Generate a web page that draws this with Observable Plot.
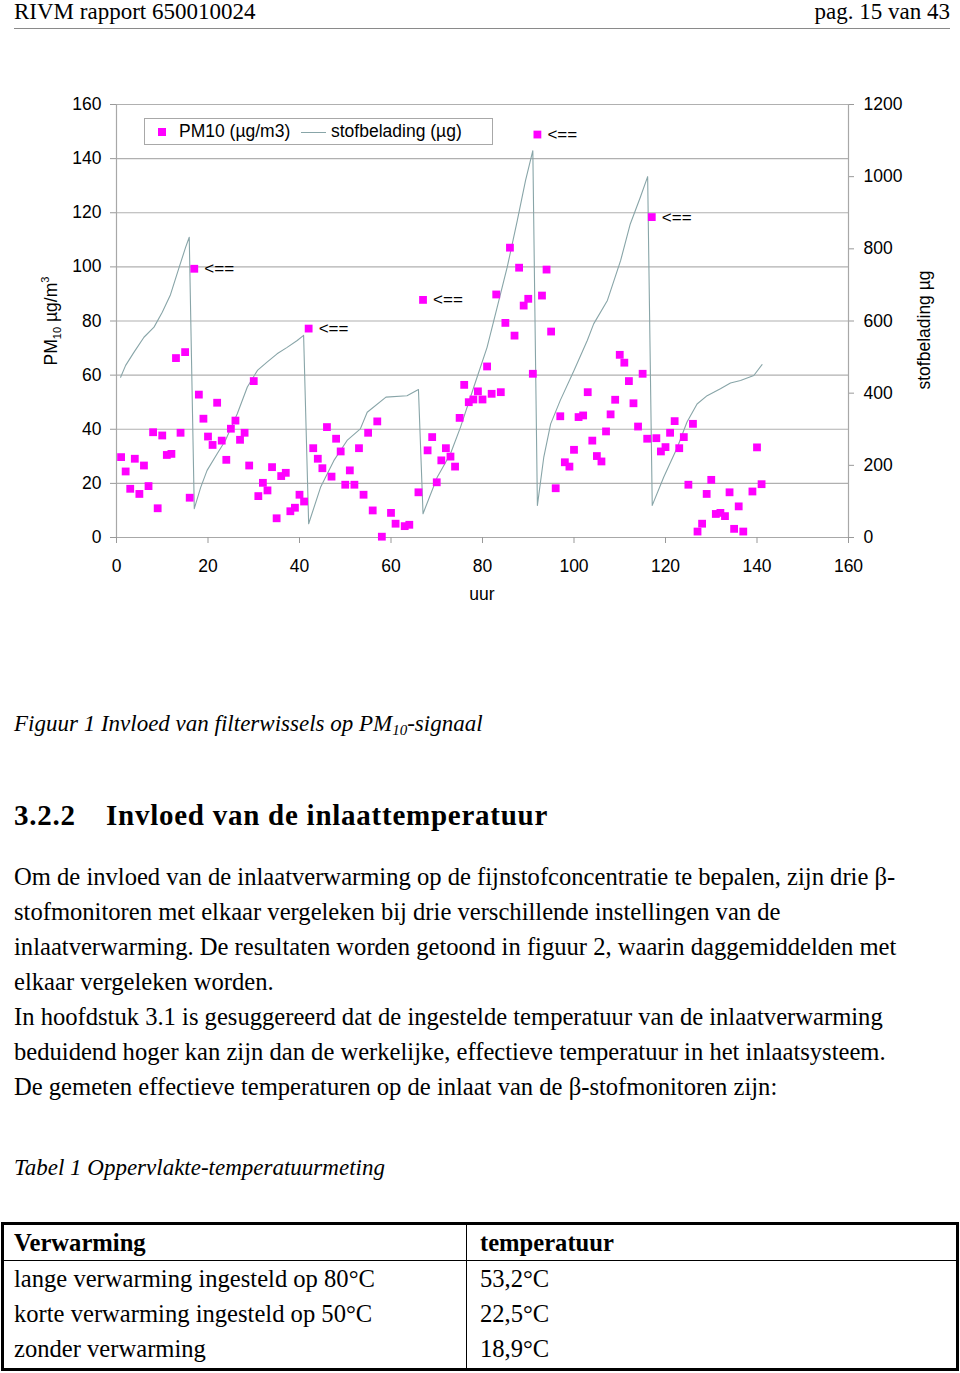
<!DOCTYPE html>
<html><head><meta charset="utf-8">
<script src="https://cdn.jsdelivr.net/npm/d3@7"></script>
<script src="https://cdn.jsdelivr.net/npm/@observablehq/plot@0.6"></script>
<style>
body{margin:0;background:#fff;}
#page{position:relative;width:960px;height:1373px;overflow:hidden;font-family:"Liberation Serif","Times New Roman",serif;color:#000;background:#fff;}
.abs{position:absolute;white-space:nowrap;}
.sans{font-family:"Liberation Sans",Arial,sans-serif;}
</style></head><body><div id="page"></div>
<script>
// ---- chart data ----
const pmHours = [1,2,3,4,5,6,7,8,9,10,11,12,13,14,15,16,17,18,19,20,21,22,23,24,25,26,27,28,29,30,
  31,32,33,34,35,36,37,38,39,40,41,42,43,44,45,46,47,48,49,50,51,52,53,54,55,56,57,58,60,61,63,64,66,
  67,68,69,70,71,72,73,74,75,76,77,78,79,80,81,82,83,84,85,86,87,88,89,90,91,92,93,94,95,96,97,98,99,100,
  101,102,103,104,105,106,107,108,109,110,111,112,113,114,115,116,117,118,119,120,121,122,123,124,125,126,
  127,128,129,130,131,132,133,134,135,136,137,139,140,141];
const pmValues = [29.7,24.4,18.0,29.1,16.1,26.6,19.0,38.9,10.8,37.7,30.5,30.9,66.3,38.7,68.5,14.7,99.3,52.8,43.9,37.3,
  34.2,49.8,35.8,28.7,40.2,43.2,36.1,38.7,26.6,57.8,15.3,20.2,17.4,26.0,7.1,22.7,23.9,9.7,11.0,15.8,13.3,77.2,
  33.0,29.1,25.6,40.8,22.5,36.5,31.8,19.5,24.8,19.5,33.0,15.8,38.7,10.0,42.9,0.3,9.1,5.1,4.2,4.7,16.7,
  87.8,32.2,37.1,20.4,28.5,33.0,29.9,26.2,44.2,56.4,50.0,51.0,54.0,51.0,63.2,53.1,89.8,53.7,79.3,107.1,74.6,
  99.7,85.7,88.2,60.5,148.9,89.4,99.0,76.1,18.2,44.8,27.8,26.2,32.4,44.5,45.1,53.7,35.8,30.1,28.1,39.2,45.5,
  50.9,67.5,64.6,57.8,49.6,41.0,60.5,36.5,118.4,36.7,31.8,33.4,38.7,43.0,33.0,37.1,19.5,42.0,2.2,5.1,16.1,
  21.3,8.7,9.1,7.9,16.7,3.2,11.5,2.2,17.0,33.3,19.7];
const flaggedHours = [17,42,67,92,117];
const loadHours = [0.9,2,3.8,6,8.2,10,11.8,13.6,15.1,15.9,
  17,18.4,19.8,22,23.8,26.4,28.6,30.8,32.9,35.1,37.3,39.5,40.9,
  42,44.6,47.5,50.4,53.3,54.8,58.9,63.5,66,
  67,70.1,73,75.2,78.1,81,83.2,85.4,87.6,89.4,91,
  92,93.4,94.9,97,100,102.9,104.3,107.3,110.2,112.3,114.5,116.1,
  117.1,119.6,122.6,124.7,126.9,129.1,132,134.2,136.4,139.3,141.1];
const loadValues = [444,477,513,555,583,624,673,745,804,832,
  80,139,186,232,269,343,417,463,486,509,527,546,560,
  38,139,213,269,301,347,389,393,410,
  66,167,232,306,417,527,638,749,878,989,1072,
  89,223,315,380,463,546,592,657,768,869,943,1000,
  89,167,250,320,370,393,412,428,435,449,479];
const xTicks = [0,20,40,60,80,100,120,140,160];
const leftTicks = [0,20,40,60,80,100,120,140,160];
const rightTicks = [0,200,400,600,800,1000,1200];
const loadToLeft = 160/1200;

// ---- page text ----
const headerLeft = "RIVM rapport 650010024";
const headerRight = "pag. 15 van 43";
const bodyLines = [
  "Om de invloed van de inlaatverwarming op de fijnstofconcentratie te bepalen, zijn drie β-",
  "stofmonitoren met elkaar vergeleken bij drie verschillende instellingen van de",
  "inlaatverwarming. De resultaten worden getoond in figuur 2, waarin daggemiddelden met",
  "elkaar vergeleken worden.",
  "In hoofdstuk 3.1 is gesuggereerd dat de ingestelde temperatuur van de inlaatverwarming",
  "beduidend hoger kan zijn dan de werkelijke, effectieve temperatuur in het inlaatsysteem.",
  "De gemeten effectieve temperaturen op de inlaat van de β-stofmonitoren zijn:"
];
const tableHeader = ["Verwarming","temperatuur"];
const tableRows = [
  ["lange verwarming ingesteld op 80°C","53,2°C"],
  ["korte verwarming ingesteld op 50°C","22,5°C"],
  ["zonder verwarming","18,9°C"]
];

const page = document.getElementById("page");
function add(html, style, cls){
  const d = document.createElement("div");
  d.className = "abs " + (cls||"");
  d.innerHTML = html;
  Object.assign(d.style, style);
  page.appendChild(d);
  return d;
}

// header
add(headerLeft, {left:"14px", top:"0px", fontSize:"23px", lineHeight:"24px"});
add(headerRight, {right:"10px", top:"0px", fontSize:"23px", lineHeight:"24px"});
add("", {left:"14px", top:"28px", width:"936px", height:"0", borderTop:"1.5px solid #8a8a8a"});

// chart
const pm = pmHours.map((h,i)=>({hour:h, pm:pmValues[i]}));
const load = loadHours.map((h,i)=>({hour:h, load:loadValues[i]}));
const flagged = pm.filter(d => flaggedHours.includes(d.hour));

const chart = Plot.plot({
  width: 960, height: 580,
  marginLeft: 116, marginRight: 112, marginTop: 64, marginBottom: 83,
  style: {fontFamily: "'Liberation Sans', Arial, sans-serif", fontSize: "17.5px", background: "transparent", color: "#000"},
  x: {domain: [0,160]},
  y: {domain: [0,160]},
  marks: [
    Plot.gridY(leftTicks.slice(1), {stroke: "#b0b0b0", strokeOpacity: 1, strokeWidth: 1.2}),
    Plot.ruleY([0], {stroke: "#a8a8a8", strokeWidth: 1.2}),
    Plot.ruleX([0], {stroke: "#a8a8a8", strokeWidth: 1.2}),
    Plot.ruleX([160], {stroke: "#a8a8a8", strokeWidth: 1.2}),
    Plot.axisY(leftTicks, {anchor: "left", tickSize: 6, tickPadding: 9, stroke: "#999", fill: "#000", label: null, fontSize: 17.5}),
    Plot.axisY(rightTicks.map(t => t*loadToLeft), {anchor: "right", tickSize: 5, tickPadding: 10, stroke: "#999", fill: "#000", label: null, fontSize: 17.5, tickFormat: d => String(Math.round(d/loadToLeft))}),
    Plot.axisX(xTicks, {anchor: "bottom", tickSize: 6, tickPadding: 16, stroke: "#999", fill: "#000", label: null, fontSize: 17.5}),
    Plot.line(load, {x: "hour", y: d => d.load*loadToLeft, stroke: "#88a5a8", strokeWidth: 1.1}),
    Plot.dot(pm, {x: "hour", y: "pm", symbol: "square", r: 4.4, fill: "#ff00ff", stroke: "none"}),
    Plot.text(flagged, {x: "hour", y: "pm", text: () => "<==", dx: 10, textAnchor: "start", fontSize: 17, fill: "#000"})
  ]
});
const holder = add("", {left:"0px", top:"40px"});
holder.appendChild(chart);

const svg = d3.select(chart);
// left axis label with sub/superscript
const ll = svg.append("text")
  .attr("transform", "translate(57,281) rotate(-90)")
  .attr("text-anchor", "middle")
  .attr("font-size", "17.5px")
  .attr("fill", "#000");
ll.append("tspan").text("PM");
ll.append("tspan").attr("font-size", "11px").attr("dy", "4").text("10");
ll.append("tspan").attr("dy", "-4").text(" µg/m");
ll.append("tspan").attr("font-size", "11px").attr("dy", "-8").text("3");
// right axis label
svg.append("text")
  .attr("transform", "translate(930,290) rotate(-90)")
  .attr("text-anchor", "middle")
  .attr("font-size", "17.5px")
  .attr("fill", "#000")
  .text("stofbelading µg");
// x axis label
svg.append("text")
  .attr("x", 482).attr("y", 560)
  .attr("text-anchor", "middle")
  .attr("font-size", "17.5px")
  .attr("fill", "#000")
  .text("uur");

// legend
const lg = add("", {left:"144px", top:"118px", width:"349px", height:"27px", boxSizing:"border-box", border:"1px solid #a8a8a8", background:"#fff", fontSize:"17.5px", lineHeight:"25px"}, "sans");
lg.innerHTML =
  '<span style="position:absolute;left:13px;top:9px;width:8px;height:8px;background:#ff00ff"></span>' +
  '<span style="position:absolute;left:34px;top:0">PM10 (µg/m3)</span>' +
  '<span style="position:absolute;left:156px;top:13px;width:25px;height:0;border-top:1.2px solid #88a5a8"></span>' +
  '<span style="position:absolute;left:186px;top:0">stofbelading (µg)</span>';

// caption
add('Figuur 1 Invloed van filterwissels op PM<sub style="font-size:15px;vertical-align:-4px">10</sub>-signaal',
  {left:"14px", top:"710px", fontSize:"23px", lineHeight:"28px", fontStyle:"italic"});

// heading
add("3.2.2", {left:"14px", top:"798px", fontSize:"29px", lineHeight:"34px", fontWeight:"bold", letterSpacing:"0.75px"});
add("Invloed van de inlaattemperatuur", {left:"106px", top:"798px", fontSize:"29px", lineHeight:"34px", fontWeight:"bold", letterSpacing:"0.75px"});

// body
bodyLines.forEach((t,i) => add(t, {left:"14px", top:(858.5 + i*35) + "px", fontSize:"24.6px", lineHeight:"35px"}));

// table caption
add("Tabel 1 Oppervlakte-temperatuurmeting", {left:"14px", top:"1154px", fontSize:"23px", lineHeight:"28px", fontStyle:"italic"});

// table
add("", {left:"1px", top:"1222px", width:"958px", height:"149px", boxSizing:"border-box", border:"3px solid #000"});
add("", {left:"466px", top:"1222px", width:"0", height:"149px", borderLeft:"1.5px solid #000"});
add("", {left:"1px", top:"1259.5px", width:"958px", height:"0", borderTop:"1.5px solid #000"});
add(tableHeader[0], {left:"14px", top:"1226px", fontSize:"24.6px", lineHeight:"34px", fontWeight:"bold"});
add(tableHeader[1], {left:"480px", top:"1226px", fontSize:"24.6px", lineHeight:"34px", fontWeight:"bold"});
tableRows.forEach((r,i) => {
  add(r[0], {left:"14px", top:(1262 + i*35) + "px", fontSize:"24.6px", lineHeight:"34px"});
  add(r[1], {left:"480px", top:(1262 + i*35) + "px", fontSize:"24.6px", lineHeight:"34px"});
});
</script>
</body></html>
